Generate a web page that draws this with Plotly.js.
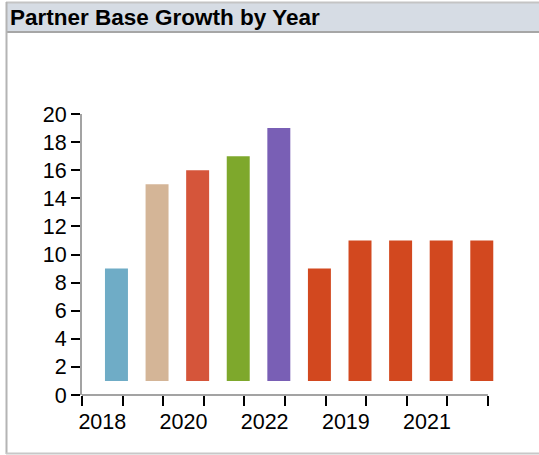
<!DOCTYPE html>
<html>
<head>
<meta charset="utf-8">
<script src="https://cdn.plot.ly/plotly-3.0.1.min.js"></script>
<style>html,body{margin:0;padding:0;background:#fff;}#chart{width:539px;height:455px;}</style>
</head>
<body>
<div id="chart"></div>
<script>
// ---- data ----
const categories = ['2018','2019','2020','2021','2022','2018','2019','2020','2021','2022'];
const barTops = [9, 15, 16, 17, 19, 9, 11, 11, 11, 11];
const barBase = 1;
const barColors = ['#6FACC6','#D4B597','#D5553A','#7EA82C','#795FB5','#D2481F','#D2481F','#D2481F','#D2481F','#D2481F'];
const yTicks = [0,2,4,6,8,10,12,14,16,18,20];

// ---- layout geometry ----
const W = 539, H = 455;
const M = {l: 82, r: 45, t: 114, b: 60};
const xMax = categories.length + 0.15;
const pw = W - M.l - M.r, ph = H - M.t - M.b;
const px = v => (v - M.l) / pw;
const py = v => (H - M.b - v) / ph;

const xs = categories.map((c, i) => i + 0.5);
const boundaries = categories.map((c, i) => i).concat([categories.length]);
const labelVals = xs.filter((v, i) => i % 2 === 0);
const labelText = categories.filter((v, i) => i % 2 === 0);

const trace = {
  type: 'bar',
  x: xs,
  y: barTops.map(v => v - barBase),
  base: barBase,
  width: 0.566,
  offset: 0.066,
  marker: {color: barColors, line: {width: 0}},
  hoverinfo: 'skip'
};

const axisGrey = '#A3A3A3';
const layout = {
  width: W, height: H,
  margin: M,
  paper_bgcolor: '#ffffff', plot_bgcolor: '#ffffff',
  showlegend: false,
  font: {family: 'Liberation Sans, Arial, sans-serif', color: '#000'},
  title: {
    text: '<b>Partner Base Growth by Year</b>',
    font: {family: 'Liberation Sans, Arial, sans-serif', size: 22.5, color: '#000'},
    xref: 'container', yref: 'container',
    x: 10 / W, xanchor: 'left',
    y: 1 - 17 / H, yanchor: 'middle'
  },
  xaxis: {
    range: [0, xMax],
    showgrid: false, zeroline: false, showline: false,
    tickmode: 'array', tickvals: labelVals, ticktext: labelText,
    ticks: '', tickfont: {size: 21.5, color: '#000'},
    ticklabelstandoff: 11,
    minor: {tickmode: 'array', tickvals: boundaries, ticks: 'outside', ticklen: 10, tickwidth: 2, tickcolor: '#000', showgrid: false},
    fixedrange: true
  },
  yaxis: {
    range: [0, 20],
    showgrid: false, zeroline: false,
    showline: true, linecolor: axisGrey, linewidth: 2,
    tickmode: 'array', tickvals: yTicks,
    ticks: 'outside', ticklen: 9, tickwidth: 2, tickcolor: '#000',
    ticklabelstandoff: 0,
    tickfont: {size: 21.5, color: '#000'},
    fixedrange: true
  },
  shapes: [
    // title band
    {type: 'rect', xref: 'paper', yref: 'paper', x0: px(6), x1: px(539), y0: py(2), y1: py(32), fillcolor: '#D6DCE4', line: {width: 0}, layer: 'below'},
    {type: 'line', xref: 'paper', yref: 'paper', x0: px(6), x1: px(539), y0: py(2.5), y1: py(2.5), line: {color: '#C4C4C4', width: 2}},
    {type: 'line', xref: 'paper', yref: 'paper', x0: px(6), x1: px(539), y0: py(32), y1: py(32), line: {color: '#A6A6A6', width: 2}},
    // frame
    {type: 'line', xref: 'paper', yref: 'paper', x0: px(6.5), x1: px(6.5), y0: py(2), y1: py(454), line: {color: '#B4B4B4', width: 2}},
    {type: 'line', xref: 'paper', yref: 'paper', x0: px(6), x1: px(539), y0: py(453.5), y1: py(453.5), line: {color: '#C8C8C8', width: 2}},
    // x axis line
    {type: 'line', xref: 'x', yref: 'paper', x0: 0, x1: categories.length, y0: 0, y1: 0, line: {color: axisGrey, width: 2}}
  ]
};

Plotly.newPlot('chart', [trace], layout, {displayModeBar: false, staticPlot: true});
</script>
</body>
</html>
